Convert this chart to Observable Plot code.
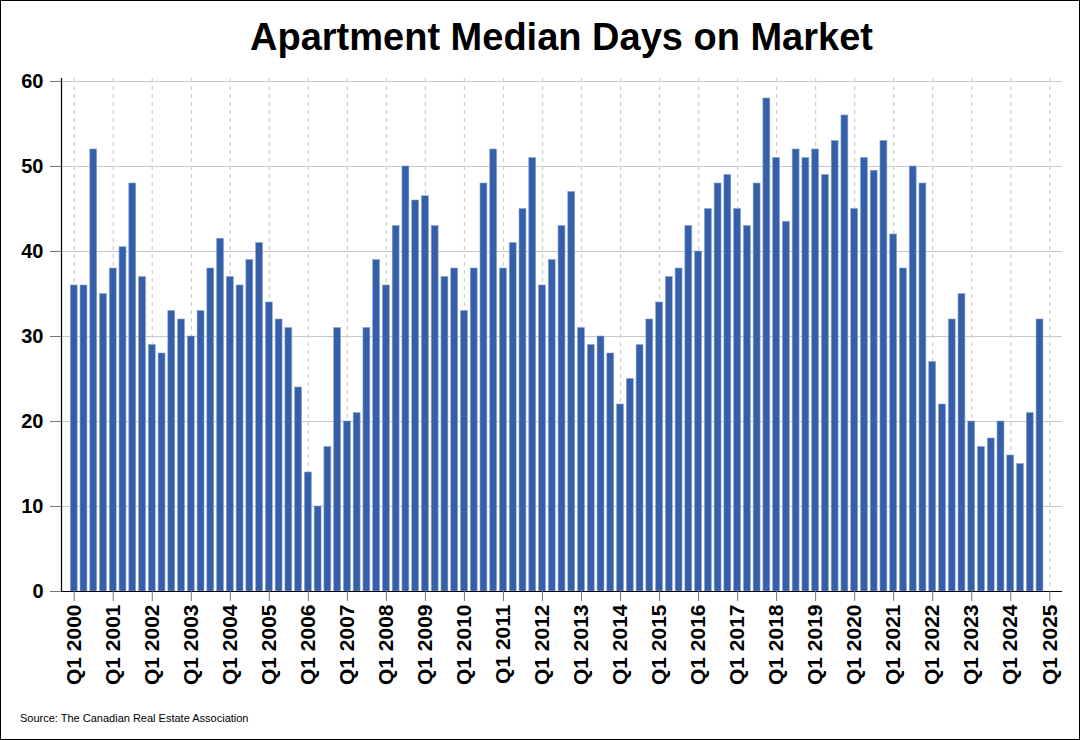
<!DOCTYPE html>
<html>
<head>
<meta charset="utf-8">
<script src="https://cdn.jsdelivr.net/npm/d3@7"></script>
<script src="https://cdn.jsdelivr.net/npm/@observablehq/plot@0.6"></script>
<style>
  html, body { margin: 0; padding: 0; background: #fff; }
  #wrap { position: relative; width: 1080px; height: 740px; box-sizing: border-box; border: 1px solid #000; background: #fff; font-family: "Liberation Sans", Arial, sans-serif; overflow: hidden; }
  #title { position: absolute; left: 60px; width: 1001px; top: 14px; text-align: center; font-size: 38px; font-weight: bold; color: #000; line-height: 44px; }
  #chart { position: absolute; left: 0; top: 70px; }
  #source { position: absolute; left: 19px; top: 711px; font-size: 11px; color: #000; }
  #chart svg text { font-family: "Liberation Sans", Arial, sans-serif; }
</style>
</head>
<body>
<div id="wrap">
  <div id="title">Apartment Median Days on Market</div>
  <div id="chart"></div>
  <div id="source">Source: The Canadian Real Estate Association</div>
</div>
<script>
const years = d3.range(2000, 2025);
const quarters = ["Q1", "Q2", "Q3", "Q4"];
const days = [
  36, 36, 52, 35,
  38, 40.5, 48, 37,
  29, 28, 33, 32,
  30, 33, 38, 41.5,
  37, 36, 39, 41,
  34, 32, 31, 24,
  14, 10, 17, 31,
  20, 21, 31, 39,
  36, 43, 50, 46,
  46.5, 43, 37, 38,
  33, 38, 48, 52,
  38, 41, 45, 51,
  36, 39, 43, 47,
  31, 29, 30, 28,
  22, 25, 29, 32,
  34, 37, 38, 43,
  40, 45, 48, 49,
  45, 43, 48, 58,
  51, 43.5, 52, 51,
  52, 49, 53, 56,
  45, 51, 49.5, 53,
  42, 38, 50, 48,
  27, 22, 32, 35,
  20, 17, 18, 20,
  16, 15, 21, 32
];
const yTicks = [0, 10, 20, 30, 40, 50, 60];

const periods = years.flatMap(y => quarters.map(q => `${q} ${y}`)).concat(["Q1 2025"]);
const q1Labels = periods.filter(p => p.startsWith("Q1"));
const data = days.map((v, i) => ({period: periods[i], value: v}));

const chart = Plot.plot({
  width: 1078,
  height: 630,
  marginTop: 7,
  marginBottom: 110,
  marginLeft: 60,
  marginRight: 17,
  x: {type: "band", domain: periods, paddingInner: 0.29, paddingOuter: 0.95, align: 0.5},
  y: {domain: [0, 60.35]},
  marks: [
    Plot.gridY(yTicks, {stroke: "#c8c8c8", strokeOpacity: 1, strokeWidth: 1.2}),
    Plot.ruleX(q1Labels, {x: d => d, stroke: "#cfcfcf", strokeWidth: 1.2, strokeDasharray: "4,4"}),
    Plot.barY(data, {x: "period", y: "value", fill: "#3560a9", stroke: "#8fa6d0", strokeWidth: 0.6}),
    Plot.ruleY([0], {stroke: "#000", strokeWidth: 1.2}),
    Plot.frame({anchor: "left", stroke: "#000", strokeWidth: 1.2}),
    Plot.axisY(yTicks, {tickSize: 11, tickPadding: 7, stroke: "#777", fill: "#000", fontSize: 20, fontWeight: "bold", label: null}),
    Plot.axisX(q1Labels, {tickSize: 10, tickPadding: 3, tickRotate: -90, textAnchor: "end", stroke: "#777", fill: "#000", fontSize: 21, fontWeight: "bold", label: null})
  ]
});
document.getElementById("chart").appendChild(chart);
</script>
</body>
</html>
